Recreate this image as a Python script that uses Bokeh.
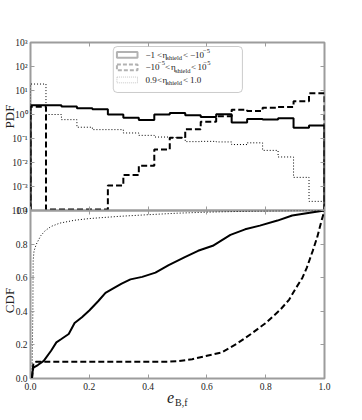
import numpy as np
from bokeh.plotting import figure
from bokeh.models import (LinearAxis, LogAxis, FixedTicker, CustomJSTickFormatter,
                          BoxAnnotation, Label, Range1d)
from bokeh.layouts import column
from bokeh.embed import file_html
from bokeh.resources import INLINE

# ---------------- data ----------------
bin_edges = np.linspace(0.0, 1.0, 20)          # 19 equal bins on e_B,f

pdf_solid = [2.45, 2.45, 2.14, 1.82, 1.66, 1.0, 0.74, 0.59, 1.0, 1.15,
             0.93, 0.79, 1.02, 0.46, 0.65, 0.62, 0.69, 0.28, 0.35]
pdf_dashed = [2.1, 0.0, 0.0, 0.0, 0.0, 1.1e-3, 3.0e-3, 7.4e-3, 0.035, 0.107,
              0.24, 0.5, 0.84, 1.58, 1.4, 1.9, 2.04, 3.55, 7.6]
pdf_dotted = [18.6, 1.0, 0.61, 0.295, 0.234, 0.234, 0.17, 0.135, 0.115, 0.11,
              0.074, 0.076, 0.072, 0.056, 0.066, 0.032, 0.017, 0.0024, 0.00024]

cdf_solid_x = [0.005, 0.007, 0.01, 0.025, 0.045, 0.07, 0.088, 0.105, 0.13, 0.15,
               0.175, 0.2, 0.23, 0.255, 0.28, 0.31, 0.34, 0.38, 0.425, 0.47,
               0.525, 0.57, 0.62, 0.68, 0.73, 0.78, 0.84, 0.89, 0.95, 1.0]
cdf_solid_y = [0.0, 0.04, 0.065, 0.08, 0.105, 0.165, 0.215, 0.235, 0.265, 0.33,
               0.365, 0.405, 0.46, 0.51, 0.535, 0.565, 0.59, 0.605, 0.63, 0.675,
               0.722, 0.76, 0.79, 0.855, 0.888, 0.91, 0.94, 0.97, 0.986, 1.0]

cdf_dashed_x = [0.005, 0.01, 0.02, 0.1, 0.2, 0.3, 0.4, 0.47, 0.5, 0.55, 0.6, 0.65,
                0.7, 0.75, 0.8, 0.85, 0.88, 0.9, 0.925, 0.94, 0.96, 0.975, 0.99, 1.0]
cdf_dashed_y = [0.0, 0.095, 0.1, 0.1, 0.1, 0.1, 0.1, 0.1, 0.103, 0.115, 0.135, 0.155,
                0.205, 0.265, 0.33, 0.41, 0.47, 0.53, 0.6, 0.66, 0.76, 0.84, 0.94, 1.0]

cdf_dotted_x = [0.005, 0.008, 0.009, 0.012, 0.02, 0.035, 0.05, 0.07, 0.1, 0.15,
                0.2, 0.3, 0.4, 0.5, 0.6, 0.7, 0.8, 0.9, 1.0]
cdf_dotted_y = [0.0, 0.4, 0.7, 0.76, 0.8, 0.85, 0.88, 0.905, 0.925, 0.942,
                0.952, 0.965, 0.975, 0.984, 0.99, 0.994, 0.997, 0.999, 1.0]

pdf_ticks = [1e-4, 1e-3, 1e-2, 1e-1, 1e0, 1e1, 1e2, 1e3]
cdf_ticks = [0.0, 0.2, 0.4, 0.6, 0.8, 1.0]
x_ticks = [0.0, 0.2, 0.4, 0.6, 0.8, 1.0]

# ---------------- style ----------------
FONT = "Liberation Serif"
GRAY = "#9c9c9c"
TXT = "#222222"

SUP_FMT = CustomJSTickFormatter(code="""
const m = {"-":"\u207b","0":"\u2070","1":"\u00b9","2":"\u00b2","3":"\u00b3",
           "4":"\u2074","5":"\u2075","6":"\u2076","7":"\u2077","8":"\u2078","9":"\u2079"};
const e = Math.round(Math.log10(tick));
return "10" + String(e).split("").map(c => m[c]).join("");
""")
DEC_FMT = CustomJSTickFormatter(code="return tick.toFixed(1);")


def style_axis(ax, ticks, formatter=None):
    ax.ticker = FixedTicker(ticks=ticks)
    ax.axis_line_color = None
    ax.major_tick_in = 4
    ax.major_tick_out = 0
    ax.major_tick_line_color = GRAY
    ax.major_tick_line_width = 1
    ax.minor_tick_line_color = None
    if formatter is None:
        ax.formatter = CustomJSTickFormatter(code="return '';")
        ax.major_label_text_font_size = "1px"
        ax.major_label_standoff = 0
    else:
        ax.formatter = formatter
        ax.major_label_text_font = FONT
        ax.major_label_text_font_size = "9.5px"
        ax.major_label_text_color = TXT
        ax.major_label_standoff = 3


def frame_style(p):
    p.outline_line_color = GRAY
    p.outline_line_width = 2
    p.xgrid.visible = False
    p.ygrid.visible = False


def step_xy(edges, vals, floor):
    v = np.asarray(vals, float)
    v = np.where(v > 0, v, floor)
    xs = np.repeat(edges, 2)
    ys = np.concatenate([[floor], np.repeat(v, 2), [floor]])
    return xs, ys


FRAME_LEFT = 30          # px from the page's left edge to the plotting frame

# ---------------- top: PDF ----------------
top = figure(width=354, height=218, x_range=Range1d(0, 1), y_range=Range1d(1e-4, 1e3),
             y_axis_type="log", output_backend="svg", toolbar_location=None,
             min_border_left=FRAME_LEFT, min_border_right=30, min_border_top=42,
             min_border_bottom=8)
frame_style(top)
style_axis(top.xaxis[0], x_ticks)
style_axis(top.yaxis[0], pdf_ticks, SUP_FMT)
ax_r = LogAxis()
style_axis(ax_r, pdf_ticks)
top.add_layout(ax_r, "right")
ax_t = LinearAxis()
style_axis(ax_t, x_ticks)
top.add_layout(ax_t, "above")

# empty bins are drawn just above the lower edge, like a clipped log histogram
floor = top.y_range.start * 10 ** (1.0 / 24)
xs, ys = step_xy(bin_edges, pdf_solid, floor)
top.line(xs, ys, line_color="black", line_width=2)
xs, ys = step_xy(bin_edges, pdf_dashed, floor)
top.line(xs, ys, line_color="black", line_width=2, line_dash="6 3")
xs, ys = step_xy(bin_edges, pdf_dotted, floor)
top.line(xs, ys, line_color="black", line_width=1, line_dash="1 2")

# legend (drawn by hand so that the subscripts can be kept)
top.add_layout(BoxAnnotation(left=0.2816, right=0.7208, top=10 ** 2.833, bottom=10 ** 0.917,
                             fill_color="white", fill_alpha=1.0, line_color="#555555",
                             line_width=1, border_radius=4))
rows = [2.48, 1.96, 1.44]
handle_styles = [dict(line_width=2, line_dash="solid", line_color="black"),
                 dict(line_width=2, line_dash="4 2", line_color="black"),
                 dict(line_width=1, line_dash="1 1", line_color="#444444")]
for r, st in zip(rows, handle_styles):
    top.add_layout(BoxAnnotation(left=0.294, right=0.364, top=10 ** (r + 0.12),
                                 bottom=10 ** (r - 0.12), fill_color=None, fill_alpha=0, **st))

legend_rows = [
    [("\u22121", 145, "m"), ("<", 156.5, "m"), ("\u03b7", 162, "m"), ("shield", 166, "sub"),
     ("<", 182.5, "m"), ("\u221210", 189.5, "m"), ("\u22125", 202.5, "sup")],
    [("\u221210", 145, "m"), ("\u22125", 157.5, "sup"), ("<", 164.5, "m"), ("\u03b7", 170.5, "m"),
     ("shield", 174.5, "sub"), ("<", 190.5, "m"), ("10", 197, "m"), ("\u22125", 203, "sup")],
    [("0.9", 145, "m"), ("<", 156.5, "m"), ("\u03b7", 162, "m"), ("shield", 166, "sub"),
     ("<", 182.5, "m"), ("1.0", 189.5, "m")],
]
for r, pieces in zip(rows, legend_rows):
    for txt, xp, kind in pieces:
        size = "9px" if kind == "m" else "6.5px"
        yoff = 0 if kind == "m" else (-3 if kind == "sub" else 4)
        top.add_layout(Label(x=0, y=10 ** r, x_offset=xp - FRAME_LEFT, y_offset=yoff,
                             text=txt, text_font=FONT, text_font_size=size,
                             text_color=TXT, text_baseline="middle", text_align="left"))

# ---------------- bottom: CDF ----------------
bot = figure(width=354, height=216, x_range=Range1d(0, 1), y_range=Range1d(0, 1),
             output_backend="svg", toolbar_location=None,
             min_border_left=FRAME_LEFT, min_border_right=30, min_border_top=8,
             min_border_bottom=40, margin=(-16, 0, 0, 0))
frame_style(bot)
bot.border_fill_alpha = 0
bot.background_fill_alpha = 0
style_axis(bot.xaxis[0], x_ticks, DEC_FMT)
bot.xaxis[0].major_label_standoff = 4
style_axis(bot.yaxis[0], cdf_ticks, DEC_FMT)
ax_r2 = LinearAxis()
style_axis(ax_r2, cdf_ticks)
bot.add_layout(ax_r2, "right")
ax_t2 = LinearAxis()
style_axis(ax_t2, x_ticks)
bot.add_layout(ax_t2, "above")

bot.line(cdf_solid_x, cdf_solid_y, line_color="black", line_width=2)
bot.line(cdf_dashed_x, cdf_dashed_y, line_color="black", line_width=2, line_dash="6 3")
bot.line(cdf_dotted_x, cdf_dotted_y, line_color="black", line_width=1, line_dash="1 2")

# ---------------- transparent overlay holding the axis titles (page pixels) ----------------
PAGE_H = 418
ov = figure(width=354, height=PAGE_H, x_range=Range1d(0, 354), y_range=Range1d(PAGE_H, 0),
            x_axis_type=None, y_axis_type=None, output_backend="svg", toolbar_location=None,
            min_border=0, min_border_left=0, min_border_right=0, min_border_top=0,
            min_border_bottom=0, margin=(-PAGE_H, 0, 0, 0))
ov.frame_align = False
ov.outline_line_color = None
ov.border_fill_alpha = 0
ov.background_fill_alpha = 0
ov.xgrid.visible = False
ov.ygrid.visible = False

axis_titles = [("PDF", 8.5, 116, "13px", "normal", np.pi / 2),
               ("CDF", 8.5, 300, "13px", "normal", np.pi / 2),
               ("e", 166.5, 397, "16px", "italic", 0.0),
               ("B,f", 174.5, 402, "10px", "normal", 0.0)]
for txt, x, y, size, style, ang in axis_titles:
    ov.add_layout(Label(x=x, y=y, text=txt, angle=ang, text_font=FONT,
                        text_font_size=size, text_font_style=style, text_color=TXT,
                        text_align="center" if ang else "left", text_baseline="middle"))

layout = column(top, bot, ov, spacing=0)
open("out.html", "w").write(file_html(layout, INLINE))
